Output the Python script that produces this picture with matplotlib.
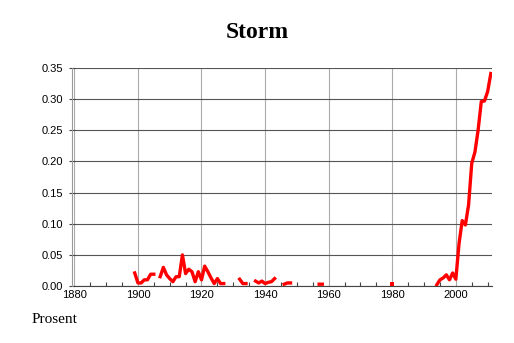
import numpy as np
import matplotlib.pyplot as plt
from matplotlib.ticker import MultipleLocator

# Storm - andel (prosent) per år, hull i serien = manglende verdier
years = np.arange(1899, 2012)
nan = np.nan
storm = [
    0.021,                                                        # 1899
    0.005, 0.005, 0.010, 0.010, 0.019, 0.019, nan, 0.015, 0.030, 0.018,  # 1900-1909
    0.012, 0.007, 0.015, 0.015, 0.050, 0.020, 0.027, 0.023, 0.007, 0.023,  # 1910-1919
    0.010, 0.032, 0.023, 0.013, 0.004, 0.012, 0.004, 0.004, nan, nan,    # 1920-1929
    nan, nan, 0.011, 0.004, 0.004, nan, nan, 0.008, 0.005, 0.008,        # 1930-1939
    0.004, 0.006, 0.007, 0.012, nan, nan, 0.003, 0.005, 0.005, nan,      # 1940-1949
    nan, nan, nan, nan, nan, nan, nan, 0.003, 0.003, nan,                # 1950-1959
    nan, nan, nan, nan, nan, nan, nan, nan, nan, nan,                    # 1960-1969
    nan, nan, nan, nan, nan, nan, nan, nan, nan, nan,                    # 1970-1979
    0.004, nan, nan, nan, nan, nan, nan, nan, nan, nan,                  # 1980-1989
    nan, nan, nan, nan, 0.002, 0.010, 0.013, 0.018, 0.010, 0.021,        # 1990-1999
    0.011, 0.068, 0.105, 0.098, 0.130, 0.197, 0.215, 0.250, 0.296, 0.297,  # 2000-2009
    0.312, 0.341,                                                 # 2010-2011
]
storm = np.array(storm)

fig = plt.figure(figsize=(5.14, 3.43), dpi=100)
ax = fig.add_axes([0.1446, 0.166, 0.8134, 0.636])

ax.plot(years, storm, color="red", lw=2.4, solid_capstyle="projecting", zorder=3)

# enkeltpunkter (uten nabo) vises som prikk
prev = np.r_[nan, storm[:-1]]
nxt = np.r_[storm[1:], nan]
alone = ~np.isnan(storm) & np.isnan(prev) & np.isnan(nxt)
ax.plot(years[alone], storm[alone], "s", color="red", ms=3, mew=0, zorder=3)

ax.set_xlim(1880, 2011.5)
ax.set_ylim(0, 0.35)
ax.xaxis.set_major_locator(MultipleLocator(20))
ax.xaxis.set_minor_locator(MultipleLocator(5))
ax.yaxis.set_major_locator(MultipleLocator(0.05))
ax.yaxis.set_major_formatter(plt.FuncFormatter(lambda v, p: f"{v:.2f}"))

ax.grid(axis="y", color="#555555", lw=0.8)
ax.grid(axis="x", color="#aaaaaa", lw=0.8)
ax.set_axisbelow(True)

for s in ["top", "right"]:
    ax.spines[s].set_visible(False)
ax.spines["left"].set_color("#999999")
ax.spines["left"].set_linewidth(0.8)
ax.spines["left"].set_position(("outward", 2))
ax.spines["bottom"].set_color("#444444")
ax.spines["bottom"].set_linewidth(0.8)

ax.tick_params(axis="x", which="major", direction="in", length=0, pad=2.5,
               labelsize=8)
ax.tick_params(axis="x", which="minor", direction="in", length=3,
               color="#444444", width=0.8)
ax.tick_params(axis="y", direction="inout", length=4, color="#444444",
               width=0.8, pad=4, labelsize=8)
for lab in ax.get_xticklabels() + ax.get_yticklabels():
    lab.set_fontfamily("Liberation Sans")

fig.text(0.5, 0.904, "Storm", ha="center", va="center",
         fontfamily="Liberation Serif", fontweight="bold", fontsize=17)
fig.text(0.062, 0.068, "Prosent", ha="left", va="center",
         fontfamily="Liberation Serif", fontsize=11)

fig.savefig("out.png", dpi=100)
